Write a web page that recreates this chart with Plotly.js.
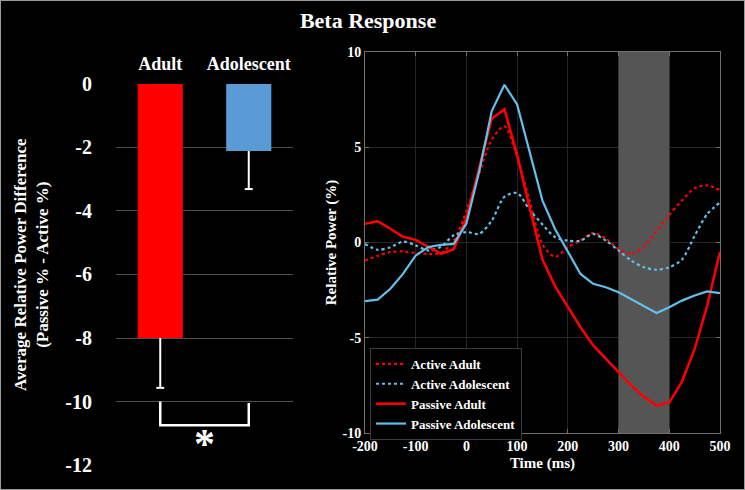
<!DOCTYPE html>
<html>
<head>
<meta charset="utf-8">
<script src="https://cdn.plot.ly/plotly-3.0.1.min.js"></script>
<style>html,body{margin:0;padding:0;background:#000;}#chart{width:745px;height:490px;}</style>
</head>
<body>
<div id="chart"></div>
<script>
// ---- Left panel data (bar chart) ----
const barCategories = ['Adult', 'Adolescent'];
const barValues = [-8.0, -2.11];
const barErrorsMinus = [1.57, 1.2];
const leftTickVals = [0, -2, -4, -6, -8, -10, -12];
const leftTickText = ['0', '-2', '-4', '-6', '-8', '-10', '-12'];

// ---- Right panel data (time courses) ----
const timeMs = [-200, -175, -150, -125, -100, -75, -50, -25, 0, 25, 50, 75, 100, 125, 150,
                175, 200, 225, 250, 275, 300, 325, 350, 375, 400, 425, 450, 475, 500];
const activeAdult = [-0.95, -0.7, -0.5, -0.47, -0.55, -0.6, -0.55, 0.1, 1.65, 3.6, 5.4, 6.1, 4.5, 2.15, -0.1,
                     -0.75, -0.25, 0.1, 0.5, 0.2, -0.35, -0.6, -0.2, 0.6, 1.45, 2.2, 2.85, 3.0, 2.75];
const activeAdolescent = [-0.07, -0.38, -0.25, 0.05, -0.15, -0.42, -0.22, 0.38, 0.55, 0.45, 1.15, 2.4, 2.6, 1.7, 0.95,
                          0.28, 0.1, 0.1, 0.45, 0.1, -0.42, -0.95, -1.3, -1.43, -1.3, -0.9, 0.35, 1.5, 2.1];
const passiveAdult = [0.98, 1.12, 0.72, 0.3, 0.14, -0.25, -0.6, -0.35, 1.3, 3.9, 6.5, 7.0, 4.6, 1.8, -0.9,
                      -2.3, -3.4, -4.45, -5.4, -6.1, -6.8, -7.5, -8.1, -8.56, -8.4, -7.3, -5.6, -3.3, -0.5];
const passiveAdolescent = [-3.08, -3.0, -2.43, -1.65, -0.68, -0.24, -0.12, -0.07, 1.0, 3.7, 6.9, 8.28, 7.25, 4.74, 2.2,
                           0.7, -0.47, -1.65, -2.17, -2.35, -2.61, -2.96, -3.34, -3.7, -3.4, -3.05, -2.78, -2.57, -2.66];
const seriesNames = ['Active Adult', 'Active Adolescent', 'Passive Adult', 'Passive Adolescent'];
const rightXTickVals = [-200, -100, 0, 100, 200, 300, 400, 500];
const rightXTickText = ['-200', '-100', '0', '100', '200', '300', '400', '500'];
const rightYTickVals = [-10, -5, 0, 5, 10];
const rightYTickText = ['-10', '-5', '0', '5', '10'];
const analysisWindow = [300, 400];

// ---- styles ----
const RED = '#ff0000';
const BLUE = '#62c0ea';
const BAR_COLORS = ['#ff0000', '#5b9bd5'];
const FONT = 'Liberation Serif, "Times New Roman", serif';

// bar positions on the left linear axis
const barX = barCategories.map((c, i) => i);

// error bar paths (downwards whiskers with cap) built from data
const capHalf = 0.045;
const ebX = [], ebY = [];
barX.forEach((x, i) => {
  const v = barValues[i], lo = barValues[i] - barErrorsMinus[i];
  ebX.push(x, x, null, x - capHalf, x + capHalf, null);
  ebY.push(v, lo, null, lo, lo, null);
});

const traces = [
  {type: 'bar', x: barX, y: barValues, width: 0.51, marker: {color: BAR_COLORS, line: {width: 0}},
   showlegend: false, hoverinfo: 'skip', xaxis: 'x', yaxis: 'y'},
  {type: 'scatter', mode: 'lines', x: ebX, y: ebY, line: {color: '#ffffff', width: 2},
   showlegend: false, hoverinfo: 'skip', xaxis: 'x', yaxis: 'y'},
  {type: 'scatter', mode: 'lines', name: seriesNames[0], x: timeMs, y: activeAdult,
   line: {color: RED, width: 2.2, dash: 'dot', shape: 'spline', smoothing: 0.8}, xaxis: 'x2', yaxis: 'y2'},
  {type: 'scatter', mode: 'lines', name: seriesNames[1], x: timeMs, y: activeAdolescent,
   line: {color: BLUE, width: 2.2, dash: 'dot', shape: 'spline', smoothing: 0.8}, xaxis: 'x2', yaxis: 'y2'},
  {type: 'scatter', mode: 'lines', name: seriesNames[2], x: timeMs, y: passiveAdult,
   line: {color: RED, width: 2.5}, xaxis: 'x2', yaxis: 'y2'},
  {type: 'scatter', mode: 'lines', name: seriesNames[3], x: timeMs, y: passiveAdolescent,
   line: {color: BLUE, width: 2.2}, xaxis: 'x2', yaxis: 'y2'}
];

const layout = {
  width: 745, height: 490,
  paper_bgcolor: '#000000', plot_bgcolor: '#000000',
  margin: {l: 0, r: 0, t: 0, b: 0},
  font: {family: FONT, color: '#ffffff', weight: 'bold'},
  title: {text: 'Beta Response', x: 0.494, xanchor: 'center', xref: 'paper', y: 0.959, yanchor: 'middle',
          font: {family: FONT, size: 22, color: '#ffffff', weight: 'bold'}},
  showlegend: true,
  legend: {x: 0.4966, y: 0.29, xanchor: 'left', yanchor: 'top', bgcolor: '#000000',
           bordercolor: '#3a3a3a', borderwidth: 1, itemwidth: 30,
           font: {family: FONT, size: 13, color: '#ffffff', weight: 'bold'}},
  xaxis: {domain: [0.1557, 0.3933], range: [-0.5, 1.5], tickvals: barX, ticktext: barCategories,
          side: 'top', showgrid: false, zeroline: false, showline: false,
          ticks: 'outside', ticklen: 6, tickcolor: 'rgba(0,0,0,0)',
          tickfont: {family: FONT, size: 18, color: '#ffffff', weight: 'bold'}, fixedrange: true},
  yaxis: {domain: [0.051, 0.8286], range: [-12, 0], tickvals: leftTickVals, ticktext: leftTickText,
          showgrid: true, gridcolor: '#505050', gridwidth: 1, zeroline: false, showline: false,
          ticks: 'outside', ticklen: 19, tickcolor: 'rgba(0,0,0,0)',
          tickfont: {family: FONT, size: 20, color: '#ffffff', weight: 'bold'}, fixedrange: true},
  xaxis2: {domain: [0.4899, 0.9664], anchor: 'y2', range: [-200, 500],
           tickvals: rightXTickVals, ticktext: rightXTickText,
           showgrid: true, gridcolor: '#262626', zeroline: false,
           showline: true, linecolor: '#707070', linewidth: 1, mirror: 'ticks',
           ticks: 'inside', ticklen: 4, tickcolor: '#707070',
           tickfont: {family: FONT, size: 14, color: '#ffffff', weight: 'bold'},
           title: {text: 'Time (ms)', standoff: 4, font: {family: FONT, size: 15, color: '#ffffff', weight: 'bold'}},
           fixedrange: true},
  yaxis2: {domain: [0.1163, 0.8939], anchor: 'x2', range: [-10, 10],
           tickvals: rightYTickVals, ticktext: rightYTickText,
           showgrid: true, gridcolor: '#262626', zeroline: false,
           showline: true, linecolor: '#707070', linewidth: 1, mirror: 'ticks',
           ticks: 'inside', ticklen: 4, tickcolor: '#707070',
           tickfont: {family: FONT, size: 14, color: '#ffffff', weight: 'bold'},
           title: {text: 'Relative Power (%)', standoff: 2, font: {family: FONT, size: 15, color: '#ffffff', weight: 'bold'}},
           fixedrange: true},
  shapes: [
    {type: 'rect', xref: 'x2', yref: 'y2', x0: analysisWindow[0], x1: analysisWindow[1], y0: -10, y1: 10,
     fillcolor: '#555555', line: {width: 0}, layer: 'between'},
    {type: 'path', xref: 'x', yref: 'y',
     path: 'M ' + barX[0] + ',-10 L ' + barX[0] + ',-10.75 L ' + barX[1] + ',-10.75 L ' + barX[1] + ',-10.05',
     line: {color: '#ffffff', width: 2.5}},
    {type: 'rect', xref: 'paper', yref: 'paper', x0: 0, x1: 1, y0: 0, y1: 1,
     line: {color: '#9a9a9a', width: 2}, fillcolor: 'rgba(0,0,0,0)'}
  ],
  annotations: [
    {text: 'Average Relative Power Difference<br>(Passive % - Active %)', textangle: -90,
     xref: 'paper', yref: 'paper', x: 31 / 745, y: 1 - 265 / 490, xanchor: 'center', yanchor: 'middle',
     showarrow: false, font: {family: FONT, size: 17, color: '#ffffff', weight: 'bold'}},
    {text: '*', xref: 'x', yref: 'y', x: (barX[0] + barX[1]) / 2, y: -11.35, xanchor: 'center', yanchor: 'middle',
     showarrow: false, font: {family: FONT, size: 42, color: '#ffffff', weight: 'bold'}}
  ]
};

Plotly.newPlot('chart', traces, layout, {displayModeBar: false, staticPlot: true});
</script>
</body>
</html>
